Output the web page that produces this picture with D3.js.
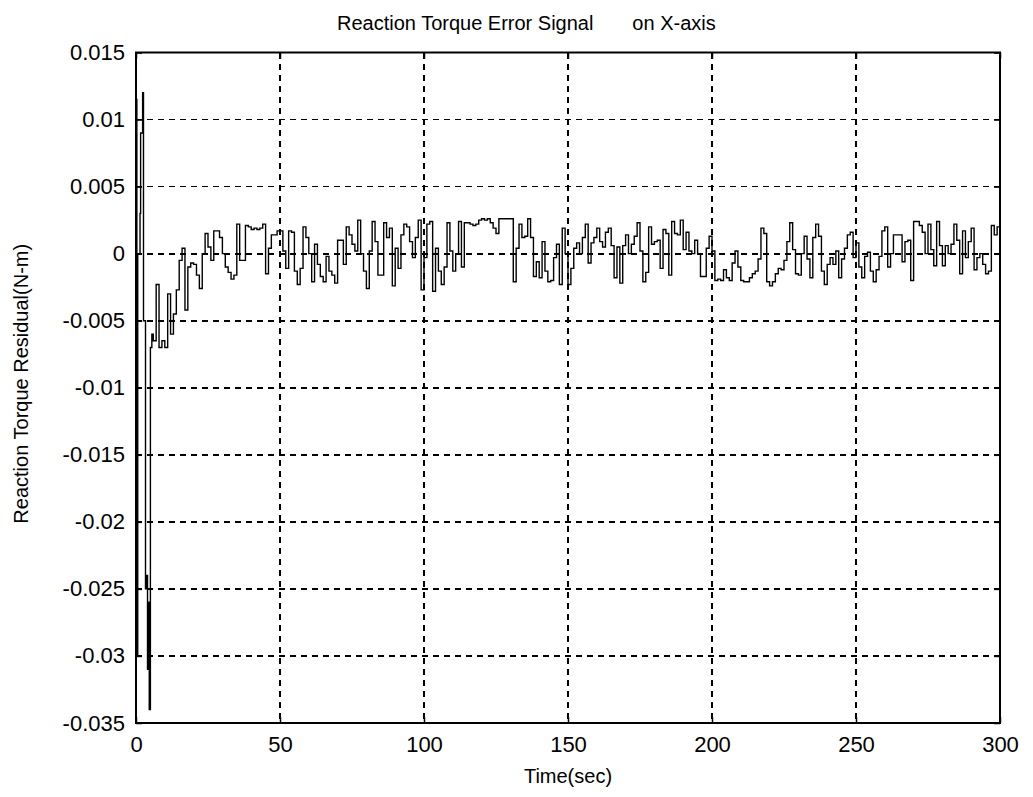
<!DOCTYPE html>
<html>
<head>
<meta charset="utf-8">
<script src="https://cdn.jsdelivr.net/npm/d3@7"></script>
<style>
  html, body { margin: 0; padding: 0; background: #fff; }
  svg { display: block; }
  text { font-family: "Liberation Sans", Arial, sans-serif; fill: #000; }
</style>
</head>
<body>
<svg id="chart" width="1033" height="797"></svg>
<script>
// Start-up transient (time in s, residual in 1e-3 N-m)
const transientTime = [0, 0.3, 0.6, 1.0, 1.4, 1.6, 2.0, 2.3, 2.6, 3.0, 3.3, 3.7, 4.0, 4.3, 4.6, 5.0, 5.5];
const transientVal  = [11.5, -30, 0, 0, 3, 9, 9, 12, -5, -5, -25, -24, -31, -26, -34, -7, -6];

// Residual sampled every 1 s from t = 6 s onward (1e-3 N-m)
const residualStart = 6;
const residual = [
  -6.5, -2.3, -7, -6.5, -7, -3.0, -6.0, -4.5, -2.7, -0.5,
  0.4, -4.2, -1.0, -0.7, -0.8, -1.6, -2.6, 0, 1.5, 0.5,
  -0.5, 1.7, 1.7, 1.2, 0, -1.0, -1.4, -1.9, -1.6, 2.2,
  -0.5, -0.5, 2.1, 2.0, 1.8, 1.9, 1.8, 1.9, 2.2, -1.5,
  0.4, 1.4, 1.4, 1.7, 1.7, 0.2, -1.1, 1.7, 1.6, -1.3,
  -2.3, -1.1, 2.0, 1.2, 0, -2.1, 0.7, -0.8, -1.7, -2.1,
  -0.2, -1.3, -1.6, -2.2, 1.0, 1.0, -0.8, 2.0, 1.4, 0.7,
  0.2, 2.5, 0, -1.3, -2.6, 0.2, 2.4, 0.9, -1.6, -1.6,
  2.3, 1.2, 1.9, -2.4, 0.4, -1.1, 1.4, 2.2, 2.0, 0.9,
  -0.3, 1.2, 2.5, -2.7, -0.3, 2.2, 2.4, -2.8, 0.4, -1.3,
  -2.3, -1.0, 2.3, 0.2, -1.3, 0, 2.4, -1.0, 2.3, 2.3,
  2.2, 2.1, 2.2, 2.5, 2.6, 2.5, 2.6, 2.3, 1.9, 1.5,
  2.6, 2.6, 2.6, 2.6, 2.6, -2.1, 0.4, 2.2, 1.2, 1.3,
  2.6, 1.2, -1.7, -0.6, -1.8, 0.9, -1.3, -2.1, -2.0, -0.3,
  0.7, -2.3, 1.9, 0, -2.3, -1.1, 0.4, 0.8, 0, 1.2,
  2.2, -0.7, 0.8, 1.2, 1.9, 0.9, 0.5, 1.6, 1.9, 0.6,
  -1.8, 0.5, -2.2, 0.6, 1.4, 0, 0.7, 1.3, 2.3, 0.2,
  -2.1, -1.4, 2.0, 0.7, 0.9, 1.0, -1.1, 1.8, 1.5, -1.6,
  2.4, 1.5, 1.4, 2.5, 0.3, 1.6, 0.2, 0, 1.0, 0,
  -1.7, -1.7, 0.4, 1.3, 0.2, -2.0, -1.9, -2.0, -1.2, -1.8,
  -2.0, -0.7, 0.2, -1.0, -2.0, -2.1, -2.1, -1.8, -1.5, -1.3,
  -0.4, 1.9, 1.5, -2.1, -2.4, -2.1, -1.5, -1.1, -1.2, -0.5,
  0.9, 2.3, 0.3, -1.5, -1.6, 0, 1.3, -0.4, -1.8, 1.2,
  2.2, 1.3, -1.3, -2.3, -0.8, -0.3, -0.8, 0.2, -1.8, -0.4,
  0.4, 1.4, 1.6, -0.3, 0.8, -1.0, -1.8, -0.2, 0.1, -1.3,
  -2.1, -1.2, -0.2, 1.7, 2.0, -1.0, 0, 1.4, 1.4, 1.4,
  -0.6, 0.9, 1.0, -2.0, 2.4, 2.4, 2.1, 1.6, 0, 2.2,
  0.3, -0.9, 2.4, 0.6, -0.9, 0.6, 0, 0.7, 2.2, 1.0,
  -1.5, 1.7, -0.3, 0.9, 1.9, -1.2, -0.3, 0, -0.8, -1.5,
  -1.3, 2.1, 1.4, 2.0, 2.4
];

// Axis ticks
const xTicks = [0, 50, 100, 150, 200, 250, 300];
const xTickLabels = ["0", "50", "100", "150", "200", "250", "300"];
const yTicks = [0.015, 0.01, 0.005, 0, -0.005, -0.01, -0.015, -0.02, -0.025, -0.03, -0.035];
const yTickLabels = ["0.015", "0.01", "0.005", "0", "-0.005", "-0.01", "-0.015", "-0.02", "-0.025", "-0.03", "-0.035"];

const titleText = "Reaction Torque Error Signal       on X-axis";
const xLabel = "Time(sec)";
const yLabel = "Reaction Torque Residual(N-m)";

// Assemble the series
const series = transientTime.map((t, i) => ({ t, v: transientVal[i] * 1e-3 }))
  .concat(residual.map((v, i) => ({ t: residualStart + i, v: v * 1e-3 })));

const svg = d3.select("#chart");
const plotLeft = 136, plotRight = 1000, plotTop = 52.5, plotBottom = 723;

const x = d3.scaleLinear().domain([0, 300]).range([plotLeft, plotRight]);
const y = d3.scaleLinear().domain([-0.035, 0.015]).range([plotBottom, plotTop]);

// Dashed grid
const grid = svg.append("g").attr("class", "grid");
grid.selectAll("line.gx").data(xTicks.slice(1, -1)).enter().append("line")
  .attr("class", "gx")
  .attr("x1", d => x(d)).attr("x2", d => x(d))
  .attr("y1", plotTop).attr("y2", plotBottom);
grid.selectAll("line.gy").data(yTicks.slice(1, -1)).enter().append("line")
  .attr("class", "gy")
  .attr("x1", plotLeft).attr("x2", plotRight)
  .attr("y1", d => y(d)).attr("y2", d => y(d));
grid.selectAll("line")
  .attr("stroke", "#000").attr("stroke-width", 1.7)
  .attr("stroke-dasharray", "6,5").attr("shape-rendering", "crispEdges");

// Signal trace (sample-and-hold)
const line = d3.line().curve(d3.curveStepAfter).x(d => x(d.t)).y(d => y(d.v));
svg.append("path").datum(series)
  .attr("d", line)
  .attr("fill", "none")
  .attr("stroke", "#000")
  .attr("stroke-width", 1.4)
  .attr("stroke-linejoin", "miter");

// Axes with inward ticks
const tickFont = "22px";
const labelFont = "20px";
const xAxis = d3.axisBottom(x).tickValues(xTicks)
  .tickFormat((d, i) => xTickLabels[i]).tickSizeInner(-6).tickSizeOuter(0).tickPadding(13);
const yAxis = d3.axisLeft(y).tickValues(yTicks)
  .tickFormat((d, i) => yTickLabels[i]).tickSizeInner(-6).tickSizeOuter(0).tickPadding(11);
const xTop = d3.axisTop(x).tickValues(xTicks).tickFormat("").tickSizeInner(-6).tickSizeOuter(0);
const yRight = d3.axisRight(y).tickValues(yTicks).tickFormat("").tickSizeInner(-6).tickSizeOuter(0);

function styleAxis(g) {
  g.select(".domain").remove();
  g.selectAll(".tick line").attr("stroke", "#000").attr("stroke-width", 1.5);
  g.selectAll(".tick text").style("font-size", tickFont).attr("fill", "#000")
    .style("font-family", "'Liberation Sans', Arial, sans-serif");
}
svg.append("g").attr("transform", `translate(0,${plotBottom})`).call(xAxis).call(styleAxis);
svg.append("g").attr("transform", `translate(${plotLeft},0)`).call(yAxis).call(styleAxis);
svg.append("g").attr("transform", `translate(0,${plotTop})`).call(xTop).call(styleAxis);
svg.append("g").attr("transform", `translate(${plotRight},0)`).call(yRight).call(styleAxis);

// Frame
svg.append("rect")
  .attr("x", plotLeft).attr("y", plotTop)
  .attr("width", plotRight - plotLeft).attr("height", plotBottom - plotTop)
  .attr("fill", "none").attr("stroke", "#000").attr("stroke-width", 2);

// Titles
svg.append("text").attr("x", 337).attr("y", 30)
  .style("font-size", labelFont).style("white-space", "pre")
  .attr("xml:space", "preserve")
  .text(titleText);
svg.append("text").attr("x", (plotLeft + plotRight) / 2).attr("y", 783)
  .attr("text-anchor", "middle").style("font-size", labelFont)
  .text(xLabel);
svg.append("text")
  .attr("transform", `translate(28,${(plotTop + plotBottom) / 2 - 4}) rotate(-90)`)
  .attr("text-anchor", "middle").style("font-size", labelFont)
  .text(yLabel);
</script>
</body>
</html>
